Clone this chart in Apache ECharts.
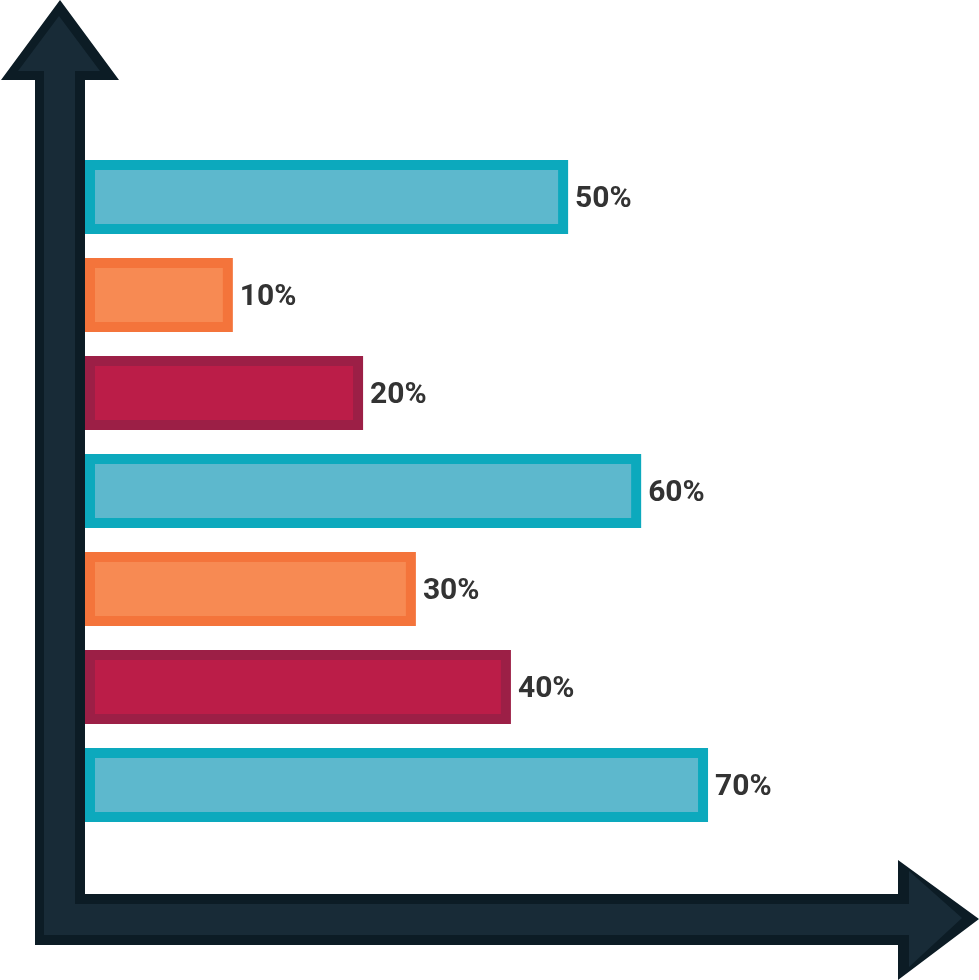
<!DOCTYPE html>
<html>
<head>
<meta charset="utf-8">
<style>
html,body{margin:0;padding:0;background:#ffffff;}
#chart{width:979px;height:980px;}
</style>
<script src="https://cdn.jsdelivr.net/npm/echarts@6/dist/echarts.min.js"></script>
</head>
<body>
<div id="chart"></div>
<script>
// Categories (top to bottom)
const categories = ['A', 'B', 'C', 'D', 'E', 'F', 'G'];
// Bar lengths as drawn in the picture (axis units, 0-100)
const barValues = [54.9, 16.8, 31.6, 63.2, 37.6, 48.4, 70.8];
// Labels printed next to the bars
const barLabels = ['50%', '10%', '20%', '60%', '30%', '40%', '70%'];
// Colour group of each bar
const colorGroup = ['teal', 'orange', 'red', 'teal', 'orange', 'red', 'teal'];

const palette = {
  teal:   { fill: '#5db8cd', border: '#0ca9bd' },
  orange: { fill: '#f78a53', border: '#f4743b' },
  red:    { fill: '#bb1d48', border: '#9c1f46' }
};

const chart = echarts.init(document.getElementById('chart'), null, { renderer: 'canvas' });

const axisOuter = [
  [60, 0], [119, 80], [85, 80], [85, 894], [898, 894], [898, 860],
  [979, 919], [898, 980], [898, 945], [35, 945], [35, 80], [1, 80]
];
const axisInner = [
  [59, 16], [100, 71], [75, 71], [75, 904], [909, 904], [909, 871],
  [962, 918], [909, 967], [909, 935], [44, 935], [44, 71], [18, 71]
];

chart.setOption({
  backgroundColor: '#ffffff',
  animation: false,
  grid: { left: 85, top: 148, width: 880, height: 686 },
  xAxis: {
    type: 'value', min: 0, max: 100,
    show: false
  },
  yAxis: {
    type: 'category', data: categories, inverse: true,
    show: false
  },
  series: [{
    type: 'bar',
    barWidth: 74,
    data: barValues.map((v, i) => ({
      value: v,
      itemStyle: {
        color: palette[colorGroup[i]].fill,
        borderColor: palette[colorGroup[i]].border,
        borderWidth: 10
      }
    })),
    label: {
      show: true,
      position: 'right',
      distance: 7,
      offset: [0, 2],
      formatter: p => barLabels[p.dataIndex],
      fontFamily: 'Roboto',
      fontWeight: 'bold',
      fontSize: 30,
      color: '#333333'
    }
  }],
  graphic: [
    {
      type: 'polygon', z: 100,
      shape: { points: axisOuter },
      style: { fill: '#0c1c25' }
    },
    {
      type: 'polygon', z: 101,
      shape: { points: axisInner },
      style: { fill: '#182b37' }
    }
  ]
});
</script>
</body>
</html>
